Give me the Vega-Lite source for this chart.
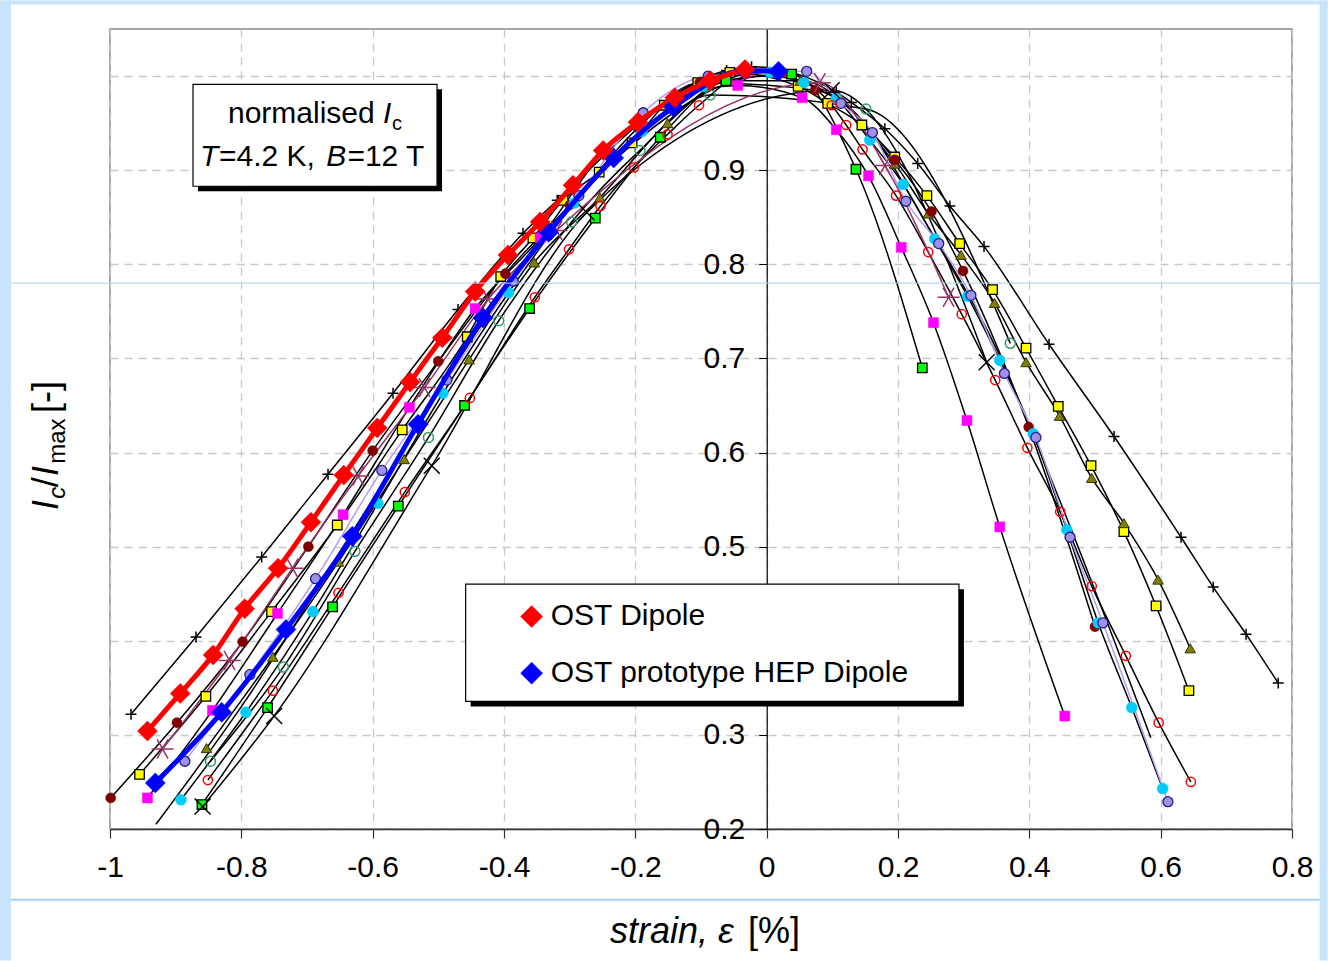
{
"$schema":"https://vega.github.io/schema/vega-lite/v6.json",
"width":1182,"height":800,
"autosize":{"type":"none"},
"padding":{"left":110,"top":29,"right":36,"bottom":132},
"background":"white",
"config":{
 "view":{"stroke":"#8a8a8a","strokeWidth":1.5},
 "point":{"opacity":1},
 "text":{"font":"Liberation Sans","color":"#000"},
 "axis":{"labelFont":"Liberation Sans","labelFontSize":30,"labelColor":"#000","gridColor":"#c8c8c8","gridDash":[8,6],"gridWidth":1.3,"labelFlush":false,"labelOverlap":false}
},
"datasets":{"c":[
{"s":"S1","x":-0.968,"y":0.322},{"s":"S1","x":-0.869,"y":0.404},{"s":"S1","x":-0.769,"y":0.489},{"s":"S1","x":-0.668,"y":0.577},{"s":"S1","x":-0.569,"y":0.663},{"s":"S1","x":-0.470,"y":0.752},{"s":"S1","x":-0.371,"y":0.833},{"s":"S1","x":-0.319,"y":0.868},{"s":"S1","x":-0.061,"y":1.006},{"s":"S1","x":-0.023,"y":1.010},{"s":"S1","x":0.106,"y":0.983},{"s":"S1","x":0.129,"y":0.972},{"s":"S1","x":0.180,"y":0.944},{"s":"S1","x":0.230,"y":0.907},{"s":"S1","x":0.279,"y":0.862},{"s":"S1","x":0.331,"y":0.819},{"s":"S1","x":0.430,"y":0.715},{"s":"S1","x":0.529,"y":0.617},{"s":"S1","x":0.631,"y":0.510},{"s":"S1","x":0.680,"y":0.457},{"s":"S1","x":0.730,"y":0.407},{"s":"S1","x":0.779,"y":0.355},
{"s":"S2","x":-0.955,"y":0.258},{"s":"S2","x":-0.854,"y":0.341},{"s":"S2","x":-0.754,"y":0.431},{"s":"S2","x":-0.654,"y":0.523},{"s":"S2","x":-0.555,"y":0.624},{"s":"S2","x":-0.456,"y":0.723},{"s":"S2","x":-0.405,"y":0.787},{"s":"S2","x":-0.356,"y":0.828},{"s":"S2","x":-0.310,"y":0.868},{"s":"S2","x":-0.255,"y":0.898},{"s":"S2","x":-0.205,"y":0.929},{"s":"S2","x":-0.156,"y":0.969},{"s":"S2","x":-0.105,"y":0.993},{"s":"S2","x":-0.056,"y":1.004},{"s":"S2","x":0.048,"y":0.989},{"s":"S2","x":0.093,"y":0.971},{"s":"S2","x":0.145,"y":0.948},{"s":"S2","x":0.195,"y":0.914},{"s":"S2","x":0.244,"y":0.873},{"s":"S2","x":0.294,"y":0.822},{"s":"S2","x":0.344,"y":0.773},{"s":"S2","x":0.395,"y":0.711},{"s":"S2","x":0.444,"y":0.649},{"s":"S2","x":0.494,"y":0.586},{"s":"S2","x":0.544,"y":0.516},{"s":"S2","x":0.593,"y":0.437},{"s":"S2","x":0.643,"y":0.347},
{"s":"S3","x":-0.853,"y":0.286},{"s":"S3","x":-0.752,"y":0.383},{"s":"S3","x":-0.652,"y":0.484},{"s":"S3","x":-0.552,"y":0.593},{"s":"S3","x":-0.453,"y":0.699},{"s":"S3","x":-0.354,"y":0.802},{"s":"S3","x":-0.254,"y":0.871},{"s":"S3","x":-0.151,"y":0.950},{"s":"S3","x":-0.056,"y":0.995},{"s":"S3","x":0.051,"y":0.995},{"s":"S3","x":0.195,"y":0.907},{"s":"S3","x":0.246,"y":0.854},{"s":"S3","x":0.296,"y":0.810},{"s":"S3","x":0.347,"y":0.759},{"s":"S3","x":0.395,"y":0.696},{"s":"S3","x":0.446,"y":0.639},{"s":"S3","x":0.495,"y":0.573},{"s":"S3","x":0.544,"y":0.525},{"s":"S3","x":0.596,"y":0.465},{"s":"S3","x":0.645,"y":0.392},
{"s":"S4","x":-0.999,"y":0.233},{"s":"S4","x":-0.898,"y":0.313},{"s":"S4","x":-0.798,"y":0.399},{"s":"S4","x":-0.698,"y":0.500},{"s":"S4","x":-0.600,"y":0.602},{"s":"S4","x":-0.500,"y":0.697},{"s":"S4","x":-0.398,"y":0.790},{"s":"S4","x":-0.300,"y":0.863},{"s":"S4","x":-0.196,"y":0.945},{"s":"S4","x":-0.102,"y":0.993},{"s":"S4","x":0.074,"y":0.985},{"s":"S4","x":0.195,"y":0.911},{"s":"S4","x":0.251,"y":0.856},{"s":"S4","x":0.299,"y":0.793},{"s":"S4","x":0.399,"y":0.627},{"s":"S4","x":0.500,"y":0.415},
{"s":"S5","x":-0.943,"y":0.233},{"s":"S5","x":-0.844,"y":0.326},{"s":"S5","x":-0.745,"y":0.429},{"s":"S5","x":-0.645,"y":0.534},{"s":"S5","x":-0.544,"y":0.648},{"s":"S5","x":-0.444,"y":0.753},{"s":"S5","x":-0.345,"y":0.828},{"s":"S5","x":-0.245,"y":0.922},{"s":"S5","x":-0.144,"y":0.974},{"s":"S5","x":-0.044,"y":0.990},{"s":"S5","x":0.054,"y":0.977},{"s":"S5","x":0.106,"y":0.943},{"s":"S5","x":0.155,"y":0.894},{"s":"S5","x":0.205,"y":0.818},{"s":"S5","x":0.254,"y":0.738},{"s":"S5","x":0.305,"y":0.634},{"s":"S5","x":0.355,"y":0.521},{"s":"S5","x":0.454,"y":0.320},
{"s":"S6","x":-0.860,"y":0.226},{"s":"S6","x":-0.760,"y":0.329},{"s":"S6","x":-0.661,"y":0.436},{"s":"S6","x":-0.561,"y":0.543},{"s":"S6","x":-0.460,"y":0.650},{"s":"S6","x":-0.361,"y":0.753},{"s":"S6","x":-0.261,"y":0.849},{"s":"S6","x":-0.162,"y":0.935},{"s":"S6","x":-0.062,"y":0.995},{"s":"S6","x":0.038,"y":1.002},{"s":"S6","x":0.136,"y":0.901},{"s":"S6","x":0.237,"y":0.690},
{"s":"S7","x":-0.892,"y":0.231},{"s":"S7","x":-0.793,"y":0.324},{"s":"S7","x":-0.691,"y":0.431},{"s":"S7","x":-0.592,"y":0.546},{"s":"S7","x":-0.493,"y":0.663},{"s":"S7","x":-0.393,"y":0.770},{"s":"S7","x":-0.293,"y":0.865},{"s":"S7","x":-0.190,"y":0.941},{"s":"S7","x":-0.097,"y":0.989},{"s":"S7","x":0.005,"y":1.004},{"s":"S7","x":0.057,"y":0.993},{"s":"S7","x":0.106,"y":0.976},{"s":"S7","x":0.157,"y":0.932},{"s":"S7","x":0.208,"y":0.885},{"s":"S7","x":0.256,"y":0.827},{"s":"S7","x":0.306,"y":0.766},{"s":"S7","x":0.355,"y":0.698},{"s":"S7","x":0.406,"y":0.620},{"s":"S7","x":0.457,"y":0.518},{"s":"S7","x":0.505,"y":0.419},{"s":"S7","x":0.556,"y":0.329},{"s":"S7","x":0.603,"y":0.243},
{"s":"S8","x":-0.886,"y":0.272},{"s":"S8","x":-0.787,"y":0.364},{"s":"S8","x":-0.687,"y":0.466},{"s":"S8","x":-0.586,"y":0.581},{"s":"S8","x":-0.487,"y":0.677},{"s":"S8","x":-0.386,"y":0.782},{"s":"S8","x":-0.286,"y":0.873},{"s":"S8","x":-0.188,"y":0.961},{"s":"S8","x":-0.089,"y":1.000},{"s":"S8","x":0.061,"y":1.005},{"s":"S8","x":0.113,"y":0.971},{"s":"S8","x":0.161,"y":0.940},{"s":"S8","x":0.212,"y":0.867},{"s":"S8","x":0.262,"y":0.822},{"s":"S8","x":0.311,"y":0.767},{"s":"S8","x":0.362,"y":0.684},{"s":"S8","x":0.410,"y":0.616},{"s":"S8","x":0.462,"y":0.510},{"s":"S8","x":0.512,"y":0.419},{"s":"S8","x":0.611,"y":0.229},
{"s":"S9","x":-0.851,"y":0.252},{"s":"S9","x":-0.752,"y":0.347},{"s":"S9","x":-0.652,"y":0.451},{"s":"S9","x":-0.551,"y":0.558},{"s":"S9","x":-0.452,"y":0.658},{"s":"S9","x":-0.353,"y":0.765},{"s":"S9","x":-0.301,"y":0.816},{"s":"S9","x":-0.253,"y":0.862},{"s":"S9","x":-0.202,"y":0.903},{"s":"S9","x":-0.151,"y":0.938},{"s":"S9","x":-0.103,"y":0.969},{"s":"S9","x":-0.027,"y":1.004},{"s":"S9","x":0.024,"y":1.004},{"s":"S9","x":0.099,"y":0.969},{"s":"S9","x":0.121,"y":0.948},{"s":"S9","x":0.146,"y":0.922},{"s":"S9","x":0.197,"y":0.873},{"s":"S9","x":0.246,"y":0.813},{"s":"S9","x":0.297,"y":0.747},{"s":"S9","x":0.348,"y":0.677},{"s":"S9","x":0.397,"y":0.605},{"s":"S9","x":0.447,"y":0.537},{"s":"S9","x":0.495,"y":0.458},{"s":"S9","x":0.547,"y":0.384},{"s":"S9","x":0.597,"y":0.313},{"s":"S9","x":0.646,"y":0.250},
{"s":"S10","x":-0.847,"y":0.272},{"s":"S10","x":-0.736,"y":0.372},{"s":"S10","x":-0.627,"y":0.495},{"s":"S10","x":-0.515,"y":0.616},{"s":"S10","x":-0.408,"y":0.740},{"s":"S10","x":-0.297,"y":0.845},{"s":"S10","x":-0.193,"y":0.921},{"s":"S10","x":-0.086,"y":0.980},{"s":"S10","x":0.151,"y":0.965},{"s":"S10","x":0.371,"y":0.716},
{"s":"S11","x":-0.859,"y":0.224},{"s":"S11","x":-0.750,"y":0.320},{"s":"S11","x":-0.510,"y":0.586},{"s":"S11","x":-0.274,"y":0.855},{"s":"S11","x":0.099,"y":0.985},{"s":"S11","x":0.335,"y":0.696},
{"s":"S12","x":-0.920,"y":0.285},{"s":"S12","x":-0.818,"y":0.379},{"s":"S12","x":-0.722,"y":0.477},{"s":"S12","x":-0.622,"y":0.575},{"s":"S12","x":-0.521,"y":0.669},{"s":"S12","x":-0.424,"y":0.763},{"s":"S12","x":-0.320,"y":0.836},{"s":"S12","x":0.081,"y":0.993},{"s":"S12","x":0.180,"y":0.905},{"s":"S12","x":0.277,"y":0.765},
{"s":"Q","x":-0.93,"y":0.205},{"s":"Q","x":-0.8,"y":0.33},{"s":"Q","x":-0.6,"y":0.55},{"s":"Q","x":-0.4,"y":0.77},{"s":"Q","x":-0.2,"y":0.93},{"s":"Q","x":0.0,"y":1.0},{"s":"Q","x":0.12,"y":0.97},{"s":"Q","x":0.25,"y":0.835},{"s":"Q","x":0.35,"y":0.71},{"s":"Q","x":0.44,"y":0.56},{"s":"Q","x":0.585,"y":0.297},
{"s":"OST Dipole","x":-0.943,"y":0.304},{"s":"OST Dipole","x":-0.893,"y":0.344},{"s":"OST Dipole","x":-0.843,"y":0.385},{"s":"OST Dipole","x":-0.795,"y":0.434},{"s":"OST Dipole","x":-0.744,"y":0.477},{"s":"OST Dipole","x":-0.694,"y":0.526},{"s":"OST Dipole","x":-0.644,"y":0.576},{"s":"OST Dipole","x":-0.593,"y":0.626},{"s":"OST Dipole","x":-0.543,"y":0.675},{"s":"OST Dipole","x":-0.494,"y":0.722},{"s":"OST Dipole","x":-0.444,"y":0.771},{"s":"OST Dipole","x":-0.394,"y":0.810},{"s":"OST Dipole","x":-0.345,"y":0.845},{"s":"OST Dipole","x":-0.295,"y":0.884},{"s":"OST Dipole","x":-0.249,"y":0.921},{"s":"OST Dipole","x":-0.196,"y":0.951},{"s":"OST Dipole","x":-0.140,"y":0.977},{"s":"OST Dipole","x":-0.086,"y":0.995},{"s":"OST Dipole","x":-0.033,"y":1.007},
{"s":"OST prototype HEP Dipole","x":-0.931,"y":0.249},{"s":"OST prototype HEP Dipole","x":-0.830,"y":0.324},{"s":"OST prototype HEP Dipole","x":-0.732,"y":0.412},{"s":"OST prototype HEP Dipole","x":-0.631,"y":0.511},{"s":"OST prototype HEP Dipole","x":-0.531,"y":0.630},{"s":"OST prototype HEP Dipole","x":-0.432,"y":0.743},{"s":"OST prototype HEP Dipole","x":-0.332,"y":0.834},{"s":"OST prototype HEP Dipole","x":-0.233,"y":0.913},{"s":"OST prototype HEP Dipole","x":-0.142,"y":0.967},{"s":"OST prototype HEP Dipole","x":-0.033,"y":1.006},{"s":"OST prototype HEP Dipole","x":0.018,"y":1.005}
]},
"layer":[
 {"data":{"name":"c"},
  "encoding":{
   "x":{"field":"x","type":"quantitative","scale":{"domain":[-1,0.8],"nice":false,"zero":false},
    "axis":{"title":null,"grid":true,"values":[-1,-0.8,-0.6,-0.4,-0.2,0,0.2,0.4,0.6,0.8],"labelExpr":"datum.value < 0 ? '-' + format(-datum.value, '') : format(datum.value, '')","domainColor":"#333","domainWidth":1.5,"tickColor":"#333","tickSize":9,"tickWidth":1.2,"labelPadding":14}},
   "y":{"field":"y","type":"quantitative","scale":{"domain":[0.2,1.05],"nice":false,"zero":false},
    "axis":{"title":null,"grid":true,"offset":-656.7,"values":[0.2,0.3,0.4,0.5,0.6,0.7,0.8,0.9,1.0],"labelExpr":"datum.value > 0.95 ? '' : format(datum.value, '.1f')","domainColor":"#000","domainWidth":1.2,"tickColor":"#000","tickSize":8,"labelPadding":14}}
  },
  "layer":[
   {"transform":[{"filter":"indexof(['S8','S12','OST Dipole','OST prototype HEP Dipole'], datum.s) < 0"}],"mark":{"type":"line","interpolate":"monotone","stroke":"#000","strokeWidth":1.5},"encoding":{"detail":{"field":"s"}}},
   {"transform":[{"filter":"datum.s == 'S8'"}],"mark":{"type":"line","interpolate":"monotone","stroke":"#b69cf0","strokeWidth":1.5},"encoding":{}},
   {"transform":[{"filter":"datum.s == 'S12'"}],"mark":{"type":"line","interpolate":"monotone","stroke":"#993366","strokeWidth":1.5},"encoding":{}},
   {"transform":[{"filter":"datum.s == 'S1'"}],"mark":{"type":"point","shape":"M-1,0H1M0,-1V1","size":120,"filled":false,"stroke":"#000","strokeWidth":1.5}},
   {"transform":[{"filter":"datum.s == 'S2'"}],"mark":{"type":"point","shape":"square","size":90,"filled":true,"fill":"#ffff00","stroke":"#000","strokeWidth":1.3}},
   {"transform":[{"filter":"datum.s == 'S3'"}],"mark":{"type":"point","shape":"triangle-up","size":110,"filled":true,"fill":"#808000","stroke":"#333300","strokeWidth":1}},
   {"transform":[{"filter":"datum.s == 'S4'"}],"mark":{"type":"point","shape":"circle","size":100,"filled":true,"fill":"#800000","stroke":"#800000","strokeWidth":0.5}},
   {"transform":[{"filter":"datum.s == 'S5'"}],"mark":{"type":"point","shape":"square","size":100,"filled":true,"fill":"#ff00ff","stroke":"#ff00ff","strokeWidth":0.5}},
   {"transform":[{"filter":"datum.s == 'S6'"}],"mark":{"type":"point","shape":"square","size":90,"filled":true,"fill":"#00ff00","stroke":"#000","strokeWidth":1.3}},
   {"transform":[{"filter":"datum.s == 'S7'"}],"mark":{"type":"point","shape":"circle","size":120,"filled":true,"fill":"#00ccff","stroke":"#00ccff","strokeWidth":0.5}},
   {"transform":[{"filter":"datum.s == 'S8'"}],"mark":{"type":"point","shape":"circle","size":100,"filled":true,"fill":"#a090e6","stroke":"#1c1c8c","strokeWidth":1.3}},
   {"transform":[{"filter":"datum.s == 'S9'"}],"mark":{"type":"point","shape":"circle","size":85,"filled":false,"stroke":"#ff0000","strokeWidth":1.5}},
   {"transform":[{"filter":"datum.s == 'S10'"}],"mark":{"type":"point","shape":"circle","size":100,"filled":false,"stroke":"#339966","strokeWidth":1.5}},
   {"transform":[{"filter":"datum.s == 'S11'"}],"mark":{"type":"point","shape":"M-1,-1L1,1M-1,1L1,-1","size":256,"filled":false,"stroke":"#000","strokeWidth":1.5}},
   {"transform":[{"filter":"datum.s == 'S12'"}],"mark":{"type":"point","shape":"M-1,0H1M-0.5,-0.87L0.5,0.87M-0.5,0.87L0.5,-0.87","size":484,"filled":false,"stroke":"#993366","strokeWidth":1.5}},
   {"transform":[{"filter":"datum.s == 'OST prototype HEP Dipole'"}],"mark":{"type":"line","interpolate":"monotone","stroke":"#0000ff","strokeWidth":5},"encoding":{}},
   {"transform":[{"filter":"datum.s == 'OST Dipole'"}],"mark":{"type":"line","interpolate":"monotone","stroke":"#ff0000","strokeWidth":5},"encoding":{}},
   {"transform":[{"filter":"datum.s == 'OST prototype HEP Dipole'"}],"mark":{"type":"point","shape":"diamond","size":400,"filled":true,"fill":"#0000ff","stroke":"#0000ff","strokeWidth":0.5}},
   {"transform":[{"filter":"datum.s == 'OST Dipole'"}],"mark":{"type":"point","shape":"diamond","size":400,"filled":true,"fill":"#ff0000","stroke":"#ff0000","strokeWidth":0.5}}
  ]},
 {"data":{"values":[{"a":1}]},"mark":{"type":"rule","stroke":"#a9cdf0","strokeWidth":1},"encoding":{"x":{"datum":-1.1508,"type":"quantitative","title":null},"x2":{"datum":0.8421},"y":{"datum":0.780,"type":"quantitative","title":null}}},
 {"data":{"values":[{"a":1}]},"mark":{"type":"rect","fill":"#000"},"encoding":{"x":{"datum":-0.866,"type":"quantitative","title":null},"x2":{"datum":-0.4944},"y":{"datum":0.8776,"type":"quantitative","title":null},"y2":{"datum":0.9859}}},
 {"data":{"values":[{"a":1}]},"mark":{"type":"rect","fill":"#fff","stroke":"#000","strokeWidth":1.2},"encoding":{"x":{"datum":-0.8736,"type":"quantitative","title":null},"x2":{"datum":-0.502},"y":{"datum":0.8829,"type":"quantitative","title":null},"y2":{"datum":0.9912}}},
 {"data":{"values":[{"a":1}]},"mark":{"type":"text","text":"normalised","fontSize":30,"align":"left","baseline":"alphabetic"},"encoding":{"x":{"datum":-0.8203,"type":"quantitative","title":null},"y":{"datum":0.9498,"type":"quantitative","title":null}}},
 {"data":{"values":[{"a":1}]},"mark":{"type":"text","text":"I","fontSize":30,"fontStyle":"italic","align":"left","baseline":"alphabetic"},"encoding":{"x":{"datum":-0.5843,"type":"quantitative","title":null},"y":{"datum":0.9498,"type":"quantitative","title":null}}},
 {"data":{"values":[{"a":1}]},"mark":{"type":"text","text":"c","fontSize":20,"align":"left","baseline":"alphabetic"},"encoding":{"x":{"datum":-0.5706,"type":"quantitative","title":null},"y":{"datum":0.9424,"type":"quantitative","title":null}}},
 {"data":{"values":[{"a":1}]},"mark":{"type":"text","text":"T","fontSize":30,"fontStyle":"italic","align":"left","baseline":"alphabetic"},"encoding":{"x":{"datum":-0.863,"type":"quantitative","title":null},"y":{"datum":0.9042,"type":"quantitative","title":null}}},
 {"data":{"values":[{"a":1}]},"mark":{"type":"text","text":"=4.2 K,","fontSize":30,"align":"left","baseline":"alphabetic"},"encoding":{"x":{"datum":-0.834,"type":"quantitative","title":null},"y":{"datum":0.9042,"type":"quantitative","title":null}}},
 {"data":{"values":[{"a":1}]},"mark":{"type":"text","text":"B","fontSize":30,"fontStyle":"italic","align":"left","baseline":"alphabetic"},"encoding":{"x":{"datum":-0.6705,"type":"quantitative","title":null},"y":{"datum":0.9042,"type":"quantitative","title":null}}},
 {"data":{"values":[{"a":1}]},"mark":{"type":"text","text":"=12 T","fontSize":30,"align":"left","baseline":"alphabetic"},"encoding":{"x":{"datum":-0.6385,"type":"quantitative","title":null},"y":{"datum":0.9042,"type":"quantitative","title":null}}},
 {"data":{"values":[{"a":1}]},"mark":{"type":"rect","fill":"#000"},"encoding":{"x":{"datum":-0.4508,"type":"quantitative","title":null},"x2":{"datum":0.3004},"y":{"datum":0.3302,"type":"quantitative","title":null},"y2":{"datum":0.4548}}},
 {"data":{"values":[{"a":1}]},"mark":{"type":"rect","fill":"#fff","stroke":"#000","strokeWidth":1.2},"encoding":{"x":{"datum":-0.4584,"type":"quantitative","title":null},"x2":{"datum":0.2928},"y":{"datum":0.3355,"type":"quantitative","title":null},"y2":{"datum":0.4601}}},
 {"data":{"values":[{"a":1}]},"mark":{"type":"point","shape":"diamond","size":484,"filled":true,"fill":"#ff0000","stroke":"#ff0000","strokeWidth":0.5},"encoding":{"x":{"datum":-0.3579,"type":"quantitative","title":null},"y":{"datum":0.4257,"type":"quantitative","title":null}}},
 {"data":{"values":[{"a":1}]},"mark":{"type":"point","shape":"diamond","size":484,"filled":true,"fill":"#0000ff","stroke":"#0000ff","strokeWidth":0.5},"encoding":{"x":{"datum":-0.3579,"type":"quantitative","title":null},"y":{"datum":0.3656,"type":"quantitative","title":null}}},
 {"data":{"values":[{"a":1}]},"mark":{"type":"text","text":"OST Dipole","fontSize":30,"align":"left","baseline":"alphabetic"},"encoding":{"x":{"datum":-0.3289,"type":"quantitative","title":null},"y":{"datum":0.4169,"type":"quantitative","title":null}}},
 {"data":{"values":[{"a":1}]},"mark":{"type":"text","text":"OST prototype HEP Dipole","fontSize":30,"align":"left","baseline":"alphabetic"},"encoding":{"x":{"datum":-0.3289,"type":"quantitative","title":null},"y":{"datum":0.3567,"type":"quantitative","title":null}}},
 {"data":{"values":[{"a":1}]},"mark":{"type":"rect","fill":"#c8e4fd"},"encoding":{"x":{"datum":-1.1675,"type":"quantitative","title":null},"x2":{"datum":-1.1508},"y":{"datum":0.0602,"type":"quantitative","title":null},"y2":{"datum":1.0804}}},
 {"data":{"values":[{"a":1}]},"mark":{"type":"rect","fill":"#c8e4fd"},"encoding":{"x":{"datum":-1.1675,"type":"quantitative","title":null},"x2":{"datum":0.8543},"y":{"datum":1.0761,"type":"quantitative","title":null},"y2":{"datum":1.0804}}},
 {"data":{"values":[{"a":1}]},"mark":{"type":"rect","fill":"#c8e4fd"},"encoding":{"x":{"datum":0.8421,"type":"quantitative","title":null},"x2":{"datum":0.8543},"y":{"datum":0.0602,"type":"quantitative","title":null},"y2":{"datum":1.0804}}},
 {"data":{"values":[{"a":1}]},"mark":{"type":"rule","stroke":"#a6cff7","strokeWidth":2},"encoding":{"x":{"datum":-1.1508,"type":"quantitative","title":null},"x2":{"datum":0.8421},"y":{"datum":0.1249,"type":"quantitative","title":null}}},
 {"data":{"values":[{"a":1}]},"mark":{"type":"text","text":"strain, ε","fontSize":36,"fontStyle":"italic","align":"left","baseline":"alphabetic"},"encoding":{"x":{"datum":-0.2386,"type":"quantitative","title":null},"y":{"datum":0.079,"type":"quantitative","title":null}}},
 {"data":{"values":[{"a":1}]},"mark":{"type":"text","text":"[%]","fontSize":36,"align":"left","baseline":"alphabetic"},"encoding":{"x":{"datum":-0.0285,"type":"quantitative","title":null},"y":{"datum":0.079,"type":"quantitative","title":null}}},
 {"data":{"values":[{"a":1}]},"mark":{"type":"text","text":"I","fontSize":36,"fontStyle":"italic","angle":270,"align":"left","baseline":"alphabetic"},"encoding":{"x":{"datum":-1.0792,"type":"quantitative","title":null},"y":{"datum":0.539,"type":"quantitative","title":null}}},
 {"data":{"values":[{"a":1}]},"mark":{"type":"text","text":"c","fontSize":24,"fontStyle":"italic","angle":270,"align":"left","baseline":"alphabetic"},"encoding":{"x":{"datum":-1.0685,"type":"quantitative","title":null},"y":{"datum":0.551,"type":"quantitative","title":null}}},
 {"data":{"values":[{"a":1}]},"mark":{"type":"text","text":"/","fontSize":36,"angle":270,"align":"left","baseline":"alphabetic"},"encoding":{"x":{"datum":-1.0792,"type":"quantitative","title":null},"y":{"datum":0.563,"type":"quantitative","title":null}}},
 {"data":{"values":[{"a":1}]},"mark":{"type":"text","text":"I","fontSize":36,"fontStyle":"italic","angle":270,"align":"left","baseline":"alphabetic"},"encoding":{"x":{"datum":-1.0792,"type":"quantitative","title":null},"y":{"datum":0.575,"type":"quantitative","title":null}}},
 {"data":{"values":[{"a":1}]},"mark":{"type":"text","text":"max","fontSize":24,"angle":270,"align":"left","baseline":"alphabetic"},"encoding":{"x":{"datum":-1.0685,"type":"quantitative","title":null},"y":{"datum":0.588,"type":"quantitative","title":null}}},
 {"data":{"values":[{"a":1}]},"mark":{"type":"text","text":"[-]","fontSize":36,"angle":270,"align":"left","baseline":"alphabetic"},"encoding":{"x":{"datum":-1.0792,"type":"quantitative","title":null},"y":{"datum":0.642,"type":"quantitative","title":null}}}
]
}
